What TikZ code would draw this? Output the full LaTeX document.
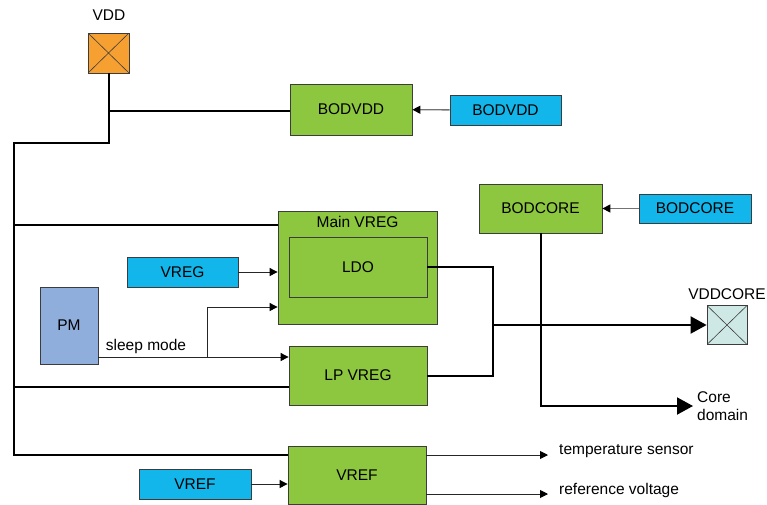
\documentclass[tikz,border=0pt]{standalone}
\usepackage{fontspec}
\setmainfont{Liberation Sans}
\usetikzlibrary{arrows.meta, positioning, calc}
\definecolor{blockgreen}{HTML}{8DC63F}
\definecolor{inblue}{HTML}{12B6EA}
\definecolor{padorange}{HTML}{F7A032}
\definecolor{pmblue}{HTML}{8FAEDC}
\definecolor{padteal}{HTML}{CDE8E5}
\definecolor{edgegray}{HTML}{3C3C3C}

\begin{document}
\begin{tikzpicture}[
    x=1pt, y=-1pt,
    every node/.style={font=\fontsize{15.5}{18}\selectfont, inner sep=0pt},
    block/.style={rectangle, draw=edgegray, line width=0.8pt, fill=blockgreen, minimum width=138pt, minimum height=59pt},
    inbox/.style={rectangle, draw=edgegray, line width=0.8pt, fill=inblue, minimum width=111pt, minimum height=30pt},
    pad/.style={rectangle, draw=edgegray, line width=0.8pt, minimum width=40pt, minimum height=40pt,
        path picture={\draw[edgegray, line width=0.6pt] (path picture bounding box.north west) -- (path picture bounding box.south east)
            (path picture bounding box.north east) -- (path picture bounding box.south west);}},
    pwr/.style={line width=2pt, black},
    sig/.style={line width=0.9pt, black!85, -{Triangle[length=8pt, width=8pt, color=black]}},
    bodarr/.style={line width=1.4pt, black!55, -{Triangle[length=8pt, width=8pt, color=black]}},
    bigarr/.style={pwr, -{Triangle[length=16pt, width=17pt]}},
    txt/.style={font=\fontsize{15.5}{18}\selectfont}
]
    \useasboundingbox (0,0) rectangle (767,504);

    % Pads
    \node[pad, fill=padorange, minimum width=41pt] (vdd) at (108.5,53) {};
    \node[txt] (vddlbl) at (109,15) {VDD};
    \node[pad, fill=padteal, minimum height=39pt] (vddcore) at (727,325) {};
    \node[txt] (vddcorelbl) at (727,294) {VDDCORE};

    % Brown-out detectors and their inputs
    \node[block, minimum width=122pt, minimum height=51pt] (bodvdd) at (351,109.5) {BODVDD};
    \node[inbox] (bodvddin) at (505.5,110) {BODVDD};
    \node[block, minimum width=123pt, minimum height=49pt] (bodcore) at (540.5,208.5) {BODCORE};
    \node[inbox, minimum width=112pt, minimum height=29pt] (bodcorein) at (695,208.5) {BODCORE};

    % Regulators
    \node[block, minimum width=159pt, minimum height=113pt,
        label={[txt, anchor=north, yshift=-5pt]north:Main VREG}] (mainvreg) at (357.5,267.5) {};
    \node[block, minimum height=60pt] (ldo) at (358,267) {LDO};
    \node[block] (lpvreg) at (358,375.5) {LP VREG};
    \node[inbox] (vreg) at (182.5,272) {VREG};
    \node[rectangle, draw=edgegray, line width=0.8pt, fill=pmblue, minimum width=58pt, minimum height=77pt] (pm) at (69,325.5) {PM};

    % Reference
    \node[block, minimum height=58pt] (vref) at (357,475) {VREF};
    \node[inbox, minimum width=112pt] (vrefin) at (195,484) {VREF};

    % Junction points of the supply tree
    \coordinate (bodtap) at (109,111);
    \coordinate (tap) at (109,143);
    \coordinate (railtop) at (14,143);
    \coordinate (railbot) at (14,455);
    \coordinate (mvtap) at (14,225);
    \coordinate (lptap) at (14,387);
    \coordinate (vjoin) at (493,325);
    \coordinate (lpout) at (427,376);
    \coordinate (coretip) at (693,406);

    % VDD supply
    \draw[pwr] (vdd.south -| tap) -- (tap) -- (railtop) -- (railbot) -- (railbot -| vref.west);
    \draw[pwr] (bodtap) -- (bodtap -| bodvdd.west);
    \draw[pwr] (mvtap) -- (mvtap -| mainvreg.west);
    \draw[pwr] (lptap) -- (lptap -| lpvreg.west);

    % BOD thresholds
    \draw[bodarr] (bodvddin) -- (bodvdd);
    \draw[bodarr] (bodcorein) -- (bodcore);

    % Control inputs
    \draw[sig] (vreg) -- (vreg -| mainvreg.west);
    \coordinate (sleepout) at (98,357);
    \coordinate (sleepfork) at (207,357);
    \coordinate (sleepup) at (207,307);
    \draw[sig] (sleepout) -- (sleepout -| lpvreg.west);
    \draw[sig] (sleepfork) -- (sleepup) -- (sleepup -| mainvreg.west);
    \node[txt] (sleeplbl) at (146,346) {sleep mode};

    % Core supply
    \draw[pwr] (ldo.east) -- (ldo.east -| vjoin) -- (lpout -| vjoin) -- (lpout);
    \draw[bigarr] (vjoin) -- (vddcore.west);
    \draw[bigarr] (bodcore.south) |- (coretip);
    \node[txt, anchor=west, align=left] (corelbl) at (697,406) {Core\\domain};

    % VREF in and out
    \draw[sig] (vrefin) -- (vrefin -| vref.west);
    \node[txt, anchor=west] (tslbl) at (559,451) {temperature sensor};
    \node[txt, anchor=west] (rvlbl) at (559,490) {reference voltage};
    \coordinate (tstip) at (548,455);
    \coordinate (rvtip) at (548,494);
    \draw[sig] (tstip -| vref.east) -- (tstip);
    \draw[sig] (rvtip -| vref.east) -- (rvtip);
\end{tikzpicture}
\end{document}
